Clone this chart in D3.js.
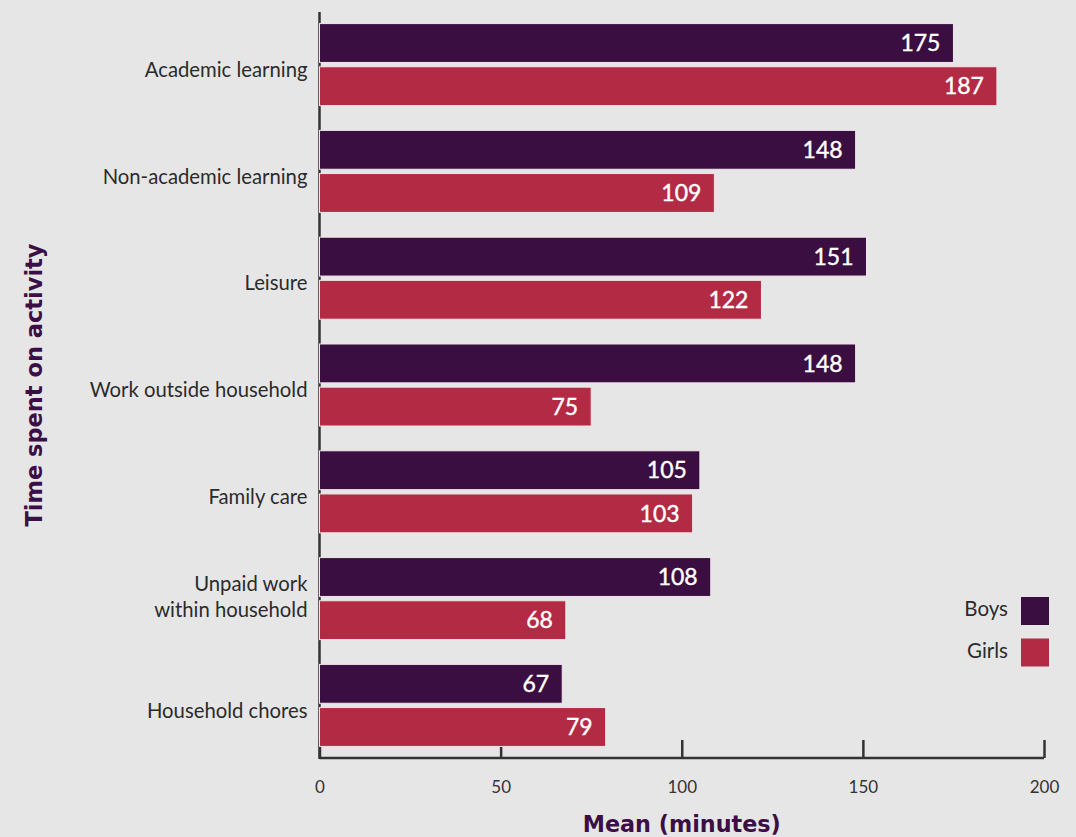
<!DOCTYPE html>
<html>
<head>
<meta charset="utf-8">
<script src="https://cdn.jsdelivr.net/npm/d3@7"></script>
<style>
  html, body { margin: 0; padding: 0; background: #e6e6e6; }
  svg { display: block; }
</style>
</head>
<body>
<svg id="chart" width="1076" height="837"></svg>
<script>
/*
Data
*/

const activities = [
  "Academic learning",
  "Non-academic learning",
  "Leisure",
  "Work outside household",
  "Family care",
  "Unpaid work\nwithin household",
  "Household chores"
];
const boys  = [175, 148, 151, 148, 105, 108, 67];
const girls = [187, 109, 122, 75, 103, 68, 79];
const groups = ["Boys", "Girls"];
const xTicks = [0, 50, 100, 150, 200];

/*
Layout
*/

const chartW = 1076,
      chartH = 837;
const plotL = 319.5, plotR = 1044, plotT = 12, plotB = 758;

const colors = { Boys: "#3a0e40", Girls: "#b22a43" };

const svg = d3.select("#chart");

svg.append("rect")
  .attr("width", chartW)
  .attr("height", chartH)
  .attr("fill", "#e6e6e6");

const x = d3.scaleLinear()
  .domain([0, 200])
  .range([plotL, plotR]);

const y = d3.scaleBand()
  .domain(activities)
  .range([plotT, plotB])
  .paddingInner(0.232)
  .paddingOuter(0.1085);

const sub = d3.scaleBand()
  .domain(groups)
  .range([0, y.bandwidth()])
  .paddingInner(0.1);

const color = d3.scaleOrdinal()
  .domain(groups)
  .range([colors.Boys, colors.Girls]);

// rows: one per activity with both values
const rows = activities.map((a, i) => ({ activity: a, Boys: boys[i], Girls: girls[i] }));

/*
Axes
*/

// x axis, ticks pointing up
const xAxis = svg.append("g")
  .attr("transform", "translate(0," + plotB + ")")
  .call(d3.axisBottom(x).tickValues(xTicks).tickSize(-18).tickPadding(0).tickFormat(d3.format("d")));

xAxis.select(".domain")
  .attr("d", "M" + plotL + ",0H" + plotR)
  .attr("stroke", "#333")
  .attr("stroke-width", 2.5);

xAxis.selectAll(".tick line")
  .attr("stroke", "#333")
  .attr("stroke-width", 2.5);

xAxis.selectAll(".tick text")
  .attr("y", 29)
  .attr("dy", "0.35em")
  .attr("fill", "#333")
  .style("font-family", "Lato, 'Open Sans', sans-serif")
  .style("font-size", "17px");

// y axis line
svg.append("line")
  .attr("x1", plotL).attr("x2", plotL)
  .attr("y1", plotT).attr("y2", plotB + 1)
  .attr("stroke", "#333")
  .attr("stroke-width", 2.5);

// category labels
const labels = svg.append("g")
  .selectAll("text")
  .data(activities)
  .enter().append("text")
  .attr("x", plotL - 12)
  .attr("text-anchor", "end")
  .attr("fill", "#2b2b2b")
  .style("font-family", "Lato, 'Open Sans', sans-serif")
  .style("font-size", "20.3px");

labels.each(function (d) {
  const lines = d.split("\n");
  const cy = y(d) + y.bandwidth() / 2 + (lines.length > 1 ? -2 : 5);
  const lh = 26;
  d3.select(this).selectAll("tspan")
    .data(lines)
    .enter().append("tspan")
    .attr("x", plotL - 12)
    .attr("y", (l, i) => cy + (i - (lines.length - 1) / 2) * lh)
    .attr("dy", "0.35em")
    .text(l => l);
});

/*
Bars
*/

const barGroups = svg.append("g")
  .selectAll("g")
  .data(rows)
  .enter().append("g")
  .attr("transform", d => "translate(0," + y(d.activity) + ")");

barGroups.selectAll("rect")
  .data(d => groups.map(g => ({ key: g, value: d[g] })))
  .enter().append("rect")
  .attr("x", x(0))
  .attr("y", d => sub(d.key))
  .attr("width", d => x(d.value) - x(0))
  .attr("height", sub.bandwidth())
  .attr("fill", d => color(d.key))
  .attr("stroke", "#f3e4ea")
  .attr("stroke-width", 1);

barGroups.selectAll("text.value")
  .data(d => groups.map(g => ({ key: g, value: d[g] })))
  .enter().append("text")
  .attr("class", "value")
  .attr("x", d => x(d.value) - 13)
  .attr("y", d => sub(d.key) + sub.bandwidth() / 2)
  .attr("dy", "0.36em")
  .attr("text-anchor", "end")
  .attr("fill", "#fff")
  .attr("stroke", "#fff")
  .attr("stroke-width", 0.4)
  .style("font-family", "Lato, 'Open Sans', sans-serif")
  .style("font-size", "23px")
  .text(d => d.value);

/*
Axis titles
*/

svg.append("text")
  .attr("x", x(100))
  .attr("y", 824)
  .attr("dy", "0.35em")
  .attr("text-anchor", "middle")
  .attr("fill", "#3b0f45")
  .style("font-family", "'DejaVu Sans', sans-serif")
  .style("font-weight", "bold")
  .style("font-size", "22.3px")
  .text("Mean (minutes)");

svg.append("text")
  .attr("transform", "translate(34," + ((plotT + plotB) / 2) + ") rotate(-90)")
  .attr("dy", "0.35em")
  .attr("text-anchor", "middle")
  .attr("fill", "#3b0f45")
  .style("font-family", "'DejaVu Sans', sans-serif")
  .style("font-weight", "bold")
  .style("font-size", "22.5px")
  .text("Time spent on activity");

/*
Legend
*/

const legend = svg.append("g")
  .selectAll("g")
  .data(groups)
  .enter().append("g")
  .attr("transform", (d, i) => "translate(1021," + (597 + i * 41.5) + ")");

legend.append("rect")
  .attr("width", 28)
  .attr("height", 28)
  .attr("fill", d => color(d));

legend.append("text")
  .attr("x", -13)
  .attr("y", 12)
  .attr("dy", "0.35em")
  .attr("text-anchor", "end")
  .attr("fill", "#2b2b2b")
  .style("font-family", "Lato, 'Open Sans', sans-serif")
  .style("font-size", "20.5px")
  .text(d => d);
</script>
</body>
</html>
